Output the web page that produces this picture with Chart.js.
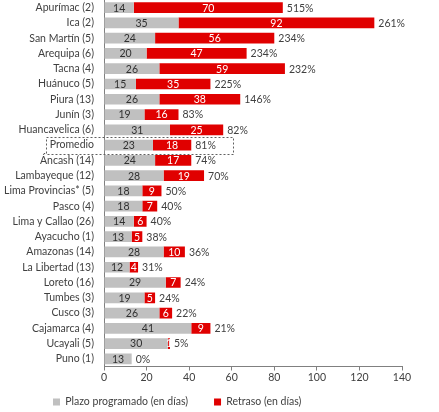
<!DOCTYPE html>
<html lang="es">
<head>
    <meta charset="UTF-8">
    <title>Plazo programado y retraso por región</title>
    <script src="https://cdn.jsdelivr.net/npm/chart.js"></script>
    <style>
        html, body { margin: 0; padding: 0; background: #fff; }
        #wrap { width: 439px; height: 412px; }
    </style>
</head>
<body>
    <div id="wrap"><canvas id="myChart" width="439" height="412"></canvas></div>
    <script>
        const regiones = [
            'Apurímac (2)', 'Ica (2)', 'San Martín (5)', 'Arequipa (6)', 'Tacna (4)',
            'Huánuco (5)', 'Piura (13)', 'Junín (3)', 'Huancavelica (6)', 'Promedio',
            'Áncash (14)', 'Lambayeque (12)', 'Lima Provincias* (5)', 'Pasco (4)',
            'Lima y Callao (26)', 'Ayacucho (1)', 'Amazonas (14)', 'La Libertad (13)',
            'Loreto (16)', 'Tumbes (3)', 'Cusco (3)', 'Cajamarca (4)', 'Ucayali (5)', 'Puno (1)'
        ];
        const plazo = [14, 35, 24, 20, 26, 15, 26, 19, 31, 23, 24, 28, 18, 18, 14, 13, 28, 12, 29, 19, 26, 41, 30, 13];
        const retraso = [70, 92, 56, 47, 59, 35, 38, 16, 25, 18, 17, 19, 9, 7, 6, 5, 10, 4, 7, 5, 6, 9, 1, 0];
        const porcentaje = ['515%', '261%', '234%', '234%', '232%', '225%', '146%', '83%', '82%', '81%',
            '74%', '70%', '50%', '40%', '40%', '38%', '36%', '31%', '24%', '24%', '22%', '21%', '5%', '0%'];
        const xTicks = [0, 20, 40, 60, 80, 100, 120, 140];

        const fontFamily = 'Lato, "Open Sans", sans-serif';
        const fontSize = 10.5;
        const textColor = '#404040';

        // numbers inside the bars and the % after each stack
        const barLabels = {
            id: 'barLabels',
            afterDatasetsDraw(chart) {
                const ctx = chart.ctx;
                const grayBars = chart.getDatasetMeta(0).data;
                const redBars = chart.getDatasetMeta(1).data;
                ctx.save();
                ctx.font = fontSize + 'px ' + fontFamily;
                ctx.textBaseline = 'middle';
                grayBars.forEach(function(bar, i) {
                    ctx.textAlign = 'center';
                    ctx.fillStyle = '#303030';
                    ctx.fillText(plazo[i], (bar.x + bar.base) / 2, bar.y + 0.5);
                    const red = redBars[i];
                    if (retraso[i] > 0) {
                        ctx.fillStyle = '#ffffff';
                        ctx.fillText(retraso[i], (red.x + red.base) / 2, red.y + 0.5);
                    }
                    ctx.textAlign = 'left';
                    ctx.fillStyle = textColor;
                    ctx.fillText(porcentaje[i], red.x + 4, red.y + 0.5);
                });
                ctx.restore();
            }
        };

        // dashed frame round the average row
        const promedioBox = {
            id: 'promedioBox',
            afterDraw(chart) {
                const ctx = chart.ctx;
                const idx = regiones.indexOf('Promedio');
                const y = chart.scales.y.getPixelForValue(idx);
                const left = chart.chartArea.left - 58;
                const right = chart.scales.x.getPixelForValue(60.5);
                ctx.save();
                ctx.strokeStyle = '#606060';
                ctx.lineWidth = 1;
                ctx.setLineDash([2, 2]);
                ctx.strokeRect(Math.round(left) + 0.5, Math.round(y - 8.5) + 0.5, Math.round(right - left), 17);
                ctx.restore();
            }
        };

        // legend padding is also the gap between items, so pull the box up and right afterwards
        const legendPlace = {
            id: 'legendPlace',
            afterLayout(chart) {
                const lg = chart.legend;
                const pad = lg.options.labels.padding;
                const h = lg.height;
                lg.top = 402 - pad - fontSize / 2;
                lg.bottom = lg.top + h;
                lg.left = 53 - pad;
            }
        };

        const ctx = document.getElementById('myChart').getContext('2d');
        const myChart = new Chart(ctx, {
            type: 'bar',
            data: {
                labels: regiones,
                datasets: [{
                    label: 'Plazo programado (en días)',
                    data: plazo,
                    backgroundColor: '#c0c0c0',
                    barPercentage: 0.7,
                    categoryPercentage: 1
                }, {
                    label: 'Retraso (en días)',
                    data: retraso,
                    backgroundColor: '#e00000',
                    barPercentage: 0.7,
                    categoryPercentage: 1
                }]
            },
            options: {
                indexAxis: 'y',
                responsive: false,
                animation: false,
                layout: {
                    padding: { top: -2, right: 37, left: 0, bottom: -23 }
                },
                scales: {
                    x: {
                        stacked: true,
                        min: 0,
                        max: 140,
                        afterBuildTicks(scale) {
                            scale.ticks = xTicks.map(v => ({ value: v }));
                        },
                        afterFit(scale) { scale.height = 22; },
                        grid: { display: true, drawOnChartArea: false, drawTicks: true, tickLength: 4, color: '#808080' },
                        border: { display: true, color: '#808080' },
                        ticks: { color: textColor, padding: 1, font: { family: fontFamily, size: fontSize } }
                    },
                    y: {
                        stacked: true,
                        afterFit(scale) {
                            scale.width = 104;
                            scale.paddingTop = 0;
                            scale.paddingBottom = 0;
                        },
                        grid: { display: false, drawTicks: false },
                        border: { display: true, color: '#808080' },
                        ticks: { color: textColor, padding: 10, autoSkip: false, font: { family: fontFamily, size: fontSize } }
                    }
                },
                plugins: {
                    legend: {
                        position: 'bottom',
                        align: 'start',
                        labels: {
                            boxWidth: 7,
                            boxHeight: 7,
                            padding: 26,
                            color: textColor,
                            font: { family: fontFamily, size: fontSize }
                        }
                    },
                    tooltip: { enabled: false }
                }
            },
            plugins: [barLabels, promedioBox, legendPlace]
        });
    </script>
</body>
</html>
